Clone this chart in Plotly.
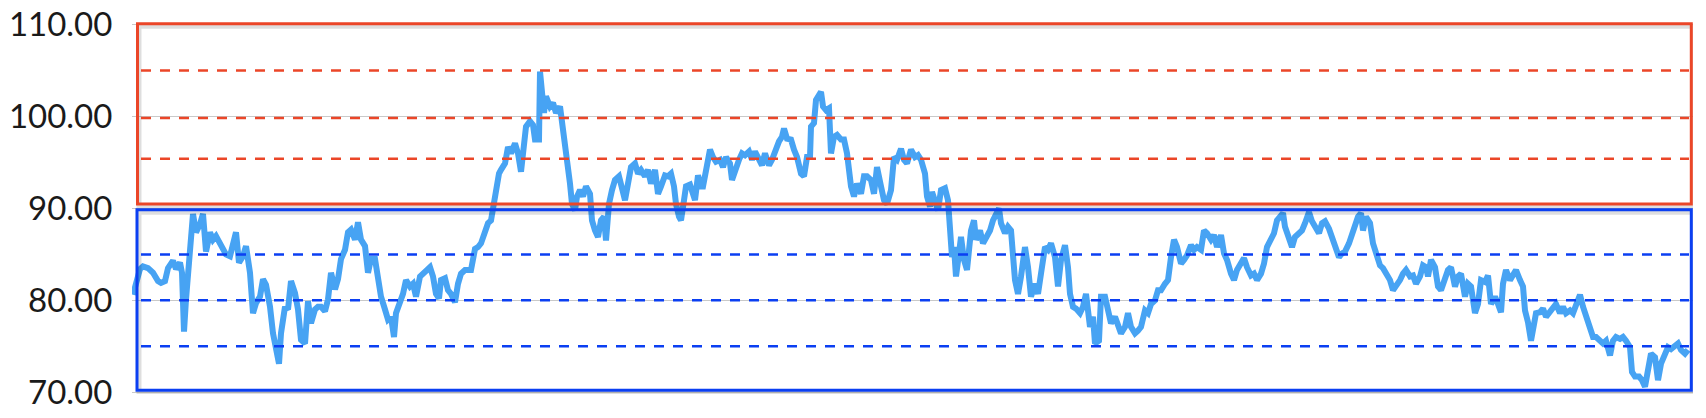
import plotly.graph_objects as go

# time index (trading-day position) and value series
t = [0, 7, 10, 15, 20, 25, 28, 32, 35, 40, 43, 47, 49, 51, 53, 57, 60, 63, 67, 70,
     73, 77, 80, 83, 87, 90, 93, 97, 100, 103, 106, 110, 113, 117, 120, 123, 127, 130, 133, 137,
     140, 143, 146, 148, 152, 155, 158, 162, 165, 168, 172, 175, 178, 182, 185, 188, 192, 195, 198, 202,
     205, 208, 212, 215, 218, 222, 225, 228, 232, 235, 238, 242, 245, 248, 252, 255,
     258, 261, 263, 267, 270, 273, 277, 280, 283, 287, 290, 293, 297, 300, 303, 306, 308, 312, 315, 318,
     322, 325, 328, 332, 335, 338, 342, 345, 348, 352, 355, 358, 361, 363, 366, 368, 372, 375, 378, 382,
     385, 388, 390, 393, 397, 400, 402, 406, 407, 409, 411, 413, 417, 420, 423, 427, 429, 432, 435, 437,
     439, 442, 444, 447, 450, 453, 457, 459, 462, 465, 468, 471, 473, 476, 479, 482, 486, 488, 492, 495,
     498, 502, 505, 508, 512, 515,
     518, 522, 525, 528, 532, 535, 538, 541, 543, 546, 548, 551, 553, 557, 560, 562, 565, 568, 570, 573,
     577, 580, 583, 587, 590, 593, 597, 599, 602, 606, 609, 612, 616, 619, 622, 626, 629, 632, 636, 639,
     642, 646, 649, 651, 654, 658, 661, 664, 668, 671, 674, 677, 678, 681, 683, 686, 688, 690, 693, 696,
     698, 701, 704, 708, 711, 714, 718, 721, 724, 728, 731, 734, 738, 741, 744, 748, 751, 754, 758, 761,
     764, 768, 771, 774,
     778, 782, 785, 788, 792, 794, 797, 799, 802, 805, 808, 812, 815, 817, 819, 821, 823, 826, 828, 831,
     834, 838, 841, 843, 847, 850, 853, 857, 860, 863, 866, 868, 872, 875, 878, 882, 885, 888, 892, 895,
     898, 902, 905, 908, 912, 915, 918, 922, 925, 928, 932, 935, 937, 940, 943, 947, 950, 953, 957, 960,
     962, 966, 968, 972, 975, 978, 982, 985, 988, 992, 995, 998, 1002, 1005, 1008, 1012, 1015, 1018, 1022, 1025,
     1028, 1032,
     1035, 1038, 1041, 1044, 1048, 1051, 1054, 1058, 1061, 1064, 1068, 1071, 1074, 1078, 1081, 1084, 1088, 1091, 1094, 1098,
     1101, 1104, 1108, 1111, 1114, 1118, 1121, 1124, 1128, 1131, 1134, 1138, 1141, 1144, 1148, 1150, 1152, 1156, 1159, 1162,
     1166, 1169, 1172, 1176, 1179, 1182, 1186, 1189, 1192, 1196, 1199, 1202, 1206, 1209, 1212, 1216, 1219, 1222, 1225, 1228,
     1230, 1233, 1237, 1240, 1243, 1247, 1250, 1253, 1257, 1260, 1263, 1267, 1270, 1273, 1277, 1280, 1283, 1287, 1290, 1293,
     1295, 1298, 1302, 1305, 1308, 1312, 1315, 1318, 1322, 1325, 1328, 1332, 1335, 1338, 1342, 1345, 1348, 1352, 1355, 1358,
     1362, 1365, 1368, 1370, 1373, 1377, 1380, 1383, 1387, 1390, 1392, 1395, 1398, 1400, 1403, 1407, 1410, 1413, 1417, 1420,
     1423, 1427, 1430, 1433, 1437, 1440, 1443, 1447, 1450, 1453, 1457, 1460, 1463, 1467, 1470, 1473, 1477, 1480, 1483, 1487,
     1490, 1493, 1497, 1499, 1502, 1506, 1509, 1512, 1515, 1518, 1522, 1525, 1528, 1532, 1535, 1538, 1542, 1545, 1548, 1552,
     1555]

values = [80.6, 83.4, 83.7, 83.5, 83.0, 82.1, 81.9, 82.1, 83.5, 84.3, 83.4, 84.1, 83.0, 76.6, 80.1, 84.8, 89.4, 87.4, 88.3, 89.4,
          85.3, 87.4, 86.6, 87.0, 86.3, 85.7, 85.0, 84.8, 86.3, 87.4, 84.1, 84.8, 85.9, 83.0, 78.6, 79.7, 80.4, 82.3, 81.7, 79.3,
          76.4, 74.8, 73.1, 76.4, 79.3, 79.0, 82.1, 80.8, 79.0, 75.7, 75.3, 79.9, 77.5, 79.0, 79.3, 79.3, 78.8, 80.1, 83.0, 81.2,
          82.3, 84.5, 85.5, 87.4, 87.7, 86.6, 88.5, 86.6, 85.9, 83.0, 84.5, 84.5, 82.3, 80.4, 79.0, 77.9,
          78.2, 76.0, 78.6, 79.6, 80.7, 82.2, 81.5, 81.8, 80.4, 82.6, 82.9, 83.3, 83.6, 82.6, 80.7, 80.2, 82.2, 82.4, 81.1, 80.7,
          79.8, 81.8, 82.9, 83.3, 83.3, 83.3, 85.6, 85.8, 86.2, 87.6, 88.4, 88.7, 90.9, 92.0, 93.8, 94.2, 94.9, 96.7, 96.0, 97.1,
          96.0, 94.0, 95.6, 98.9, 99.5, 99.1, 97.5, 97.5, 104.9, 102.9, 100.4, 102.2, 101.1, 101.5, 100.4, 101.1, 99.6, 97.1, 95.3, 92.7,
          90.5, 89.8, 91.3, 92.0, 91.3, 92.4, 91.6, 88.7, 87.6, 86.9, 88.7, 89.1, 86.5, 90.5, 92.0, 93.1, 93.5, 92.4, 90.9, 92.7,
          94.5, 94.9, 93.8, 94.2, 93.5, 94.2,
          92.7, 94.2, 91.6, 92.4, 93.6, 93.5, 93.8, 92.4, 90.5, 89.1, 88.7, 90.9, 92.4, 92.6, 91.6, 90.9, 93.6, 92.4, 92.4, 94.5,
          96.4, 95.6, 95.1, 95.3, 94.5, 95.6, 94.9, 93.1, 94.2, 95.3, 96.0, 95.8, 96.2, 95.3, 96.2, 95.3, 94.7, 96.0, 94.7, 95.3,
          96.4, 97.3, 97.8, 98.7, 97.6, 97.5, 96.4, 95.6, 93.8, 93.5, 95.6, 95.6, 98.9, 99.3, 101.8, 102.2, 102.7, 101.1, 100.7, 100.9,
          96.0, 97.8, 98.0, 97.5, 97.5, 96.0, 92.4, 91.3, 92.7, 91.6, 93.5, 93.5, 93.1, 91.6, 94.5, 92.4, 90.9, 90.5, 92.0, 95.6,
          95.3, 96.5, 95.3, 94.9,
          96.4, 95.6, 95.8, 95.3, 93.8, 91.3, 90.2, 91.8, 90.9, 89.8, 92.0, 92.2, 90.9, 87.6, 84.7, 85.8, 82.6, 85.1, 86.9, 84.4,
          83.3, 87.6, 88.7, 86.6, 87.6, 86.2, 86.9, 87.6, 88.7, 89.5, 90.0, 88.4, 87.3, 88.0, 87.6, 82.2, 80.7, 82.6, 85.8, 83.6,
          80.4, 81.8, 80.7, 82.9, 85.8, 85.5, 86.2, 84.7, 81.5, 84.4, 86.0, 83.6, 80.7, 79.3, 79.1, 78.6, 79.3, 80.7, 77.1, 78.2,
          75.3, 75.6, 80.4, 80.4, 78.9, 77.5, 78.2, 77.1, 76.4, 77.1, 78.6, 77.1, 76.4, 76.7, 77.1, 78.9, 78.6, 79.6, 80.0, 81.1,
          81.1, 81.8,
          82.2, 84.7, 86.6, 85.8, 84.0, 84.4, 84.9, 86.0, 85.5, 85.8, 85.5, 87.6, 87.3, 86.6, 87.1, 85.8, 87.1, 85.1, 84.4, 82.9,
          82.2, 83.3, 84.0, 84.6, 83.6, 82.7, 82.9, 82.2, 82.9, 84.0, 85.8, 86.7, 87.3, 88.7, 89.1, 89.5, 88.0, 86.6, 85.8, 86.9,
          87.3, 87.6, 88.4, 89.6, 88.6, 88.0, 87.3, 88.4, 88.6, 87.8, 86.7, 85.8, 84.7, 85.1, 85.3, 86.2, 87.3, 88.0, 89.1, 89.5,
          87.6, 89.1, 88.4, 86.2, 84.9, 83.8, 83.5, 82.9, 82.2, 81.1, 81.5, 82.2, 82.9, 83.3, 82.6, 82.7, 81.8, 82.6, 83.8, 83.6,
          82.6, 84.4, 83.6, 81.5, 81.1, 82.2, 83.3, 83.6, 81.5, 82.6, 82.9, 80.4, 81.8, 81.5, 78.6, 79.6, 82.2, 82.0, 82.7, 79.6,
          80.4, 79.6, 78.7, 81.8, 83.3, 82.2, 82.9, 83.3, 82.2, 81.5, 78.9, 77.6, 75.6, 77.1, 78.6, 78.7, 79.1, 78.2, 78.7, 79.1,
          79.6, 78.6, 79.3, 78.6, 78.9, 78.6, 79.6, 80.6, 79.3, 78.2, 77.1, 76.0, 76.0, 75.6, 75.3, 75.6, 74.0, 75.6, 76.0, 75.8,
          76.0, 75.6, 74.9, 72.2, 71.7, 71.7, 71.3, 70.6, 72.7, 74.2, 73.8, 71.3, 73.1, 74.2, 74.9, 74.7, 75.1, 75.3, 74.6, 74.2,
          74.6]

y_ticks = [70, 80, 90, 100, 110]
upper_zone = (90.48, 110.1)
lower_zone = (70.2, 89.85)
upper_levels = [95.4, 99.85, 105.02]
lower_levels = [75.0, 80.0, 85.0]

RED = "#eb4628"
BLUE = "#0b3ff2"
LINE = "#47a3f3"

fig = go.Figure()
fig.add_trace(go.Scatter(x=t, y=values, mode="lines",
                         line=dict(color=LINE, width=6), hoverinfo="skip",
                         showlegend=False))

shapes = []
x_left, x_right = 4.5, 1558.3
# soft shadows under the boxes
for (y0, y1) in (upper_zone, lower_zone):
    shapes.append(dict(type="rect", xref="x", yref="y", x0=x_left + 1.5, x1=x_right + 1.5,
                       y0=y0 - 0.25, y1=y1 - 0.25, line=dict(color="rgba(0,0,0,0.13)", width=5),
                       layer="above"))
for lv in upper_levels:
    shapes.append(dict(type="line", xref="x", yref="y", x0=8, x1=1556, y0=lv, y1=lv,
                       line=dict(color=RED, width=2.5, dash="10px,9px"), layer="above"))
for lv in lower_levels:
    shapes.append(dict(type="line", xref="x", yref="y", x0=8, x1=1556, y0=lv, y1=lv,
                       line=dict(color=BLUE, width=2.5, dash="10px,9px"), layer="above"))
shapes.append(dict(type="rect", xref="x", yref="y", x0=x_left, x1=x_right,
                   y0=upper_zone[0], y1=upper_zone[1], line=dict(color=RED, width=3), layer="above"))
shapes.append(dict(type="rect", xref="x", yref="y", x0=x_left - 0.5, x1=x_right,
                   y0=lower_zone[0], y1=lower_zone[1], line=dict(color=BLUE, width=3), layer="above"))

fig.update_layout(
    width=1706, height=418,
    margin=dict(l=132, r=13, t=22, b=24, autoexpand=False),
    paper_bgcolor="white", plot_bgcolor="white",
    shapes=shapes,
    xaxis=dict(range=[-1, 1560], showgrid=False, zeroline=False, showticklabels=False,
               ticks="", showline=False, fixedrange=True, automargin=False),
    yaxis=dict(range=[69.8, 110.3], tickvals=y_ticks, tickformat=".2f", automargin=False,
               ticklabeloverflow="allow", fixedrange=True,
               showgrid=True, gridcolor="#c9c9c9", gridwidth=1, zeroline=False,
               showline=False, ticks="outside", ticklen=12, tickcolor="rgba(0,0,0,0)",
               tickfont=dict(family="Lato", size=33, color="#1a1a1a")),
)

# remove the default 8px page margin so the figure fills the window exactly
fig.write_html("out.html", config={"displayModeBar": False, "staticPlot": True},
               post_script="document.body.style.margin='0';")
